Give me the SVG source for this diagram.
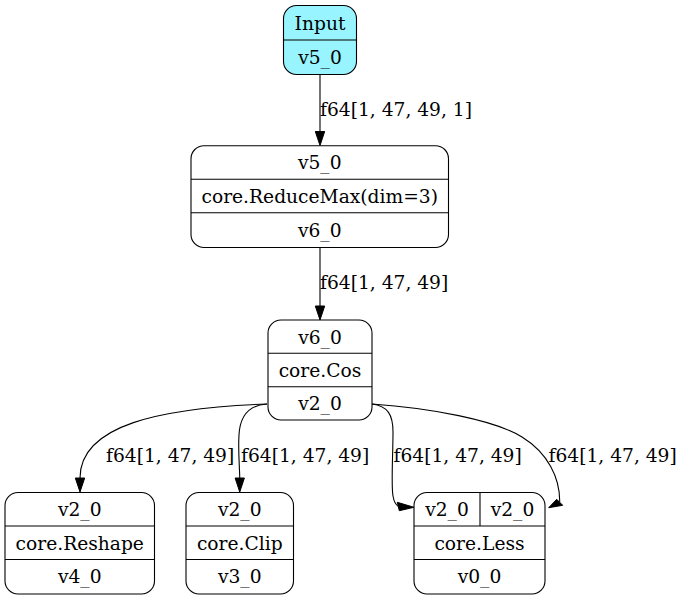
<svg xmlns="http://www.w3.org/2000/svg" width="682" height="601" viewBox="0 0 682 601">
<style>
text{font-family:"DejaVu Serif","Liberation Serif",serif;font-size:18.67px;fill:#000}
.c{text-anchor:middle}
.box{fill:#fff;stroke:#000;stroke-width:1.1}
.ln{stroke:#000;stroke-width:1.1;fill:none}
.e{stroke:#000;stroke-width:1.1;fill:none}
.ah{fill:#000;stroke:#000;stroke-width:1}
</style>
<rect width="682" height="601" fill="#fff"/>
<g id="connectors">
<path class="e" d="M320,74.5 L320,131.5"/>
<polygon class="ah" points="320,145.5 315.3,131.5 324.7,131.5"/>
<text x="320" y="115.5">f64[1, 47, 49, 1]</text>
<path class="e" d="M320,247.5 L320,306"/>
<polygon class="ah" points="320,320 315.3,306 324.7,306"/>
<text x="320" y="288.5">f64[1, 47, 49]</text>
<path class="e" d="M267,404 C160,408 80,425 80,478"/>
<polygon class="ah" points="80,492 75.3,478 84.7,478"/>
<text x="106" y="461.5">f64[1, 47, 49]</text>
<path class="e" d="M267,404 C250,405 240,415 239,435 C238,450 239.5,465 239.75,478"/>
<polygon class="ah" points="239.75,492 235.1,478 244.4,478"/>
<text x="241" y="461.5">f64[1, 47, 49]</text>
<path class="e" d="M372,404 C388,406 393,415 393,432 C393,455 391,485 393,496 C394,502 396,505 398.5,506.5"/>
<polygon class="ah" points="397.3,502.3 399.3,510.7 414,507.3"/>
<text x="393.5" y="461.5">f64[1, 47, 49]</text>
<path class="e" d="M372,404 C430,408 495,420 522,437 C548,453 560,478 559.7,502"/>
<polygon class="ah" points="548.7,507.7 556.7,499.3 562.7,505.3"/>
<text x="548.5" y="461.5">f64[1, 47, 49]</text>
</g>
<g id="node-input">
<rect x="283.5" y="5.5" width="73" height="69" rx="13" fill="#98f5ff" stroke="#000" stroke-width="1.1"/>
<line class="ln" x1="283.5" y1="40" x2="356.5" y2="40"/>
<text class="c" x="320" y="29.5">Input</text>
<text class="c" x="320" y="64">v5_0</text>
</g>
<g id="node-reducemax">
<rect class="box" x="191" y="145.7" width="257.5" height="101.8" rx="13"/>
<line class="ln" x1="191" y1="179.3" x2="448.5" y2="179.3"/>
<line class="ln" x1="191" y1="212.7" x2="448.5" y2="212.7"/>
<text class="c" x="319.75" y="169.3">v5_0</text>
<text class="c" x="319.75" y="202.8">core.ReduceMax(dim=3)</text>
<text class="c" x="319.75" y="236.8">v6_0</text>
</g>
<g id="node-cos">
<rect class="box" x="268" y="320" width="104" height="100" rx="13"/>
<line class="ln" x1="268" y1="353.3" x2="372" y2="353.3"/>
<line class="ln" x1="268" y1="386.7" x2="372" y2="386.7"/>
<text class="c" x="320" y="343.5">v6_0</text>
<text class="c" x="320" y="376.8">core.Cos</text>
<text class="c" x="320" y="410.1">v2_0</text>
</g>
<g id="node-reshape">
<rect class="box" x="5" y="492.5" width="149.5" height="101.5" rx="13"/>
<line class="ln" x1="5" y1="526" x2="154.5" y2="526"/>
<line class="ln" x1="5" y1="559.5" x2="154.5" y2="559.5"/>
<text class="c" x="79.75" y="516">v2_0</text>
<text class="c" x="79.75" y="549.5">core.Reshape</text>
<text class="c" x="79.75" y="583.3">v4_0</text>
</g>
<g id="node-clip">
<rect class="box" x="186" y="492.5" width="107.5" height="101.5" rx="13"/>
<line class="ln" x1="186" y1="526" x2="293.5" y2="526"/>
<line class="ln" x1="186" y1="559.5" x2="293.5" y2="559.5"/>
<text class="c" x="239.75" y="516">v2_0</text>
<text class="c" x="239.75" y="549.5">core.Clip</text>
<text class="c" x="239.75" y="583.3">v3_0</text>
</g>
<g id="node-less">
<rect class="box" x="414" y="492.5" width="131" height="101.5" rx="13"/>
<line class="ln" x1="480" y1="492.5" x2="480" y2="526"/>
<line class="ln" x1="414" y1="526" x2="545" y2="526"/>
<line class="ln" x1="414" y1="559.5" x2="545" y2="559.5"/>
<text class="c" x="447" y="516">v2_0</text>
<text class="c" x="512.5" y="516">v2_0</text>
<text class="c" x="479.5" y="549.5">core.Less</text>
<text class="c" x="479.5" y="583.3">v0_0</text>
</g>
</svg>
